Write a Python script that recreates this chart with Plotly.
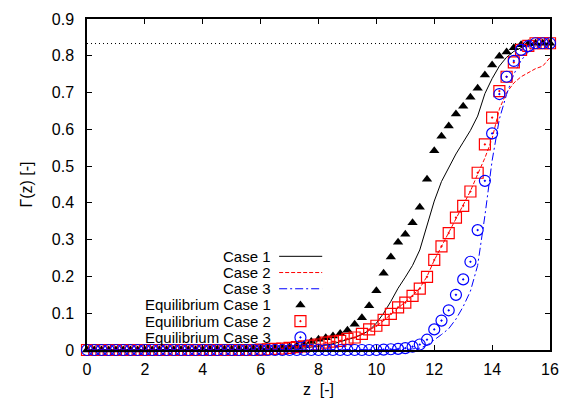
import plotly.graph_objects as go

# ---------------- data ----------------
z = [0.0, 0.25, 0.5, 0.75, 1.0, 1.25, 1.5, 1.75, 2.0, 2.25, 2.5, 2.75, 3.0, 3.25, 3.5, 3.75,
     4.0, 4.25, 4.5, 4.75, 5.0, 5.25, 5.5, 5.75, 6.0, 6.25, 6.5, 6.75, 7.0, 7.25, 7.5, 7.75,
     8.0, 8.25, 8.5, 8.75, 9.0, 9.25, 9.5, 9.75, 10.0, 10.25, 10.5, 10.75, 11.0, 11.25, 11.5, 11.75,
     12.0, 12.25, 12.5, 12.75, 13.0, 13.25, 13.5, 13.75, 14.0, 14.25, 14.5, 14.75, 15.0, 15.25, 15.5, 15.75, 16.0]

case1 = [0, 0, 0, 0, 0, 0, 0, 0, 0, 0, 0, 0, 0, 0, 0, 0,
         0, 0, 0, 0, 0, 0, 0, 0, 0, 0, 0, 0, 0.002, 0.003, 0.005, 0.007,
         0.010, 0.013, 0.017, 0.022, 0.027, 0.034, 0.042, 0.053, 0.073, 0.100, 0.132, 0.168, 0.198, 0.230, 0.272, 0.337,
         0.405, 0.458, 0.497, 0.533, 0.565, 0.597, 0.636, 0.697, 0.738, 0.772, 0.796, 0.812, 0.822, 0.829, 0.832, 0.834, 0.835]

case2 = [0, 0, 0, 0, 0, 0, 0, 0, 0, 0, 0, 0, 0, 0, 0, 0,
         0, 0, 0, 0, 0, 0, 0, 0, 0.001, 0.001, 0.002, 0.003, 0.005, 0.007, 0.009, 0.011,
         0.014, 0.017, 0.021, 0.025, 0.029, 0.035, 0.043, 0.053, 0.065, 0.080, 0.097, 0.114, 0.130, 0.148, 0.168, 0.200,
         0.244, 0.281, 0.318, 0.357, 0.393, 0.432, 0.478, 0.522, 0.575, 0.655, 0.700, 0.726, 0.743, 0.755, 0.765, 0.772, 0.795]

case3 = [0, 0, 0, 0, 0, 0, 0, 0, 0, 0, 0, 0, 0, 0, 0, 0,
         0, 0, 0, 0, 0, 0, 0, 0, 0, 0, 0, 0, 0, 0, 0, 0,
         0, 0, 0, 0, 0, 0, 0, 0, 0, 0, 0, 0, 0.001, 0.003, 0.005, 0.013,
         0.027, 0.042, 0.058, 0.084, 0.118, 0.160, 0.230, 0.365, 0.515, 0.628, 0.695, 0.750, 0.787, 0.811, 0.825, 0.831, 0.834]

eq1 = [0, 0, 0, 0, 0, 0, 0, 0, 0, 0, 0.001, 0.001, 0.001, 0.001, 0.001, 0.001,
       0.001, 0.002, 0.002, 0.002, 0.002, 0.003, 0.003, 0.004, 0.004, 0.005, 0.006, 0.007, 0.009, 0.011, 0.015, 0.023,
       0.029, 0.033, 0.038, 0.045, 0.054, 0.070, 0.088, 0.120, 0.161, 0.209, 0.253, 0.293, 0.315, 0.346, 0.388, 0.464,
       0.542, 0.581, 0.609, 0.642, 0.663, 0.687, 0.712, 0.748, 0.775, 0.799, 0.810, 0.822, 0.830, 0.833, 0.834, 0.834, 0.834]

eq2 = [0, 0, 0, 0, 0, 0, 0, 0, 0, 0, 0, 0, 0, 0, 0, 0,
       0, 0, 0, 0, 0, 0, 0, 0, 0.001, 0.002, 0.003, 0.004, 0.006, 0.008, 0.010, 0.012,
       0.015, 0.020, 0.023, 0.025, 0.030, 0.034, 0.044, 0.056, 0.066, 0.082, 0.098, 0.116, 0.129, 0.147, 0.167, 0.199,
       0.245, 0.282, 0.318, 0.360, 0.392, 0.431, 0.482, 0.559, 0.632, 0.704, 0.743, 0.782, 0.816, 0.827, 0.834, 0.834, 0.834]

eq3 = [0, 0, 0, 0, 0, 0, 0, 0, 0, 0, 0, 0, 0, 0, 0, 0,
       0, 0, 0, 0, 0, 0, 0, 0, 0, 0, 0, 0, 0, 0, 0, 0,
       0, 0, 0, 0, 0, 0, 0, 0, 0, 0.001, 0.002, 0.003, 0.005, 0.009, 0.015, 0.028,
       0.056, 0.080, 0.108, 0.150, 0.192, 0.240, 0.326, 0.460, 0.589, 0.696, 0.743, 0.786, 0.816, 0.826, 0.834, 0.834, 0.834]

limit_x = [0, 16]
limit_y = [0.8333, 0.8333]

legend_labels = ["Case 1", "Case 2", "Case 3",
                 "Equilibrium Case 1", "Equilibrium Case 2", "Equilibrium Case 3"]

x_ticks = [0, 2, 4, 6, 8, 10, 12, 14, 16]
y_ticks = [0, 0.1, 0.2, 0.3, 0.4, 0.5, 0.6, 0.7, 0.8, 0.9]
y_ticktext = ["0", "0.1", "0.2", "0.3", "0.4", "0.5", "0.6", "0.7", "0.8", "0.9"]

# ---------------- styles ----------------
FONT = "Liberation Sans, Arial, Helvetica, sans-serif"
RED = "#ff0000"
BLUE = "#0000ff"
styles = [
    dict(mode="lines", line=dict(color="black", width=1)),
    dict(mode="lines", line=dict(color=RED, width=1, dash="4px,2px")),
    dict(mode="lines", line=dict(color=BLUE, width=1, dash="8px,3px,2px,3px")),
    dict(mode="markers", marker=dict(symbol="triangle-up", size=9, color="black")),
    dict(mode="markers", marker=dict(symbol="square-open-dot", size=11, color=RED,
                                     line=dict(width=1.2, color=RED))),
    dict(mode="markers", marker=dict(symbol="circle-open-dot", size=11, color=BLUE,
                                     line=dict(width=1.2, color=BLUE))),
]
series = [case1, case2, case3, eq1, eq2, eq3]

fig = go.Figure()
for s, st, name in zip(series, styles, legend_labels):
    fig.add_trace(go.Scatter(x=z, y=s, name=name, showlegend=False, cliponaxis=False, **st))

fig.add_trace(go.Scatter(x=limit_x, y=limit_y, mode="lines", showlegend=False,
                         line=dict(color="black", width=1, dash="1px,3px")))

# ---------------- legend (gnuplot style: text right, key to the right) ----------------
leg_text_x = 0.401
key_x0, key_x1 = 0.415, 0.508
key_mid = 0.461
row_y = [0.283, 0.234, 0.185, 0.136, 0.087, 0.038]
for i, (name, st) in enumerate(zip(legend_labels, styles)):
    fig.add_annotation(x=leg_text_x, y=row_y[i], xref="paper", yref="paper",
                       text=name, showarrow=False, xanchor="right", yanchor="middle",
                       font=dict(family=FONT, size=15, color="black"))
    if st["mode"] == "lines":
        ln = st["line"]
        fig.add_shape(type="line", xref="paper", yref="paper",
                      x0=key_x0, x1=key_x1, y0=row_y[i], y1=row_y[i],
                      line=dict(color=ln["color"], width=ln["width"], dash=ln.get("dash", "solid")))
    else:
        fig.add_trace(go.Scatter(x=[key_mid], y=[row_y[i]], xaxis="x2", yaxis="y2",
                                 showlegend=False, cliponaxis=False, mode="markers",
                                 marker=st["marker"], hoverinfo="skip"))

axis_common = dict(showline=True, linecolor="black", linewidth=1.5, mirror="ticks",
                   ticks="inside", ticklen=5, tickwidth=1, tickcolor="black",
                   showgrid=False, zeroline=False, automargin=False,
                   tickfont=dict(family=FONT, size=16, color="black"))

fig.update_layout(
    width=561, height=398,
    margin=dict(l=87, r=11, t=19, b=48),
    paper_bgcolor="white", plot_bgcolor="white",
    font=dict(family=FONT, size=16, color="black"),
    xaxis=dict(range=[0, 16], tickvals=x_ticks, ticktext=[str(v) for v in x_ticks],
               title=dict(text="z  [-]", font=dict(family=FONT, size=16), standoff=9),
               ticklabelstandoff=4, **axis_common),
    yaxis=dict(range=[0, 0.9], tickvals=y_ticks, ticktext=y_ticktext,
               title=dict(text="Γ(z) [-]", font=dict(family=FONT, size=16), standoff=15),
               ticklabelstandoff=8, **axis_common),
    xaxis2=dict(range=[0, 1], overlaying="x", visible=False),
    yaxis2=dict(range=[0, 1], overlaying="y", visible=False),
)

fig.write_html("out.html")
